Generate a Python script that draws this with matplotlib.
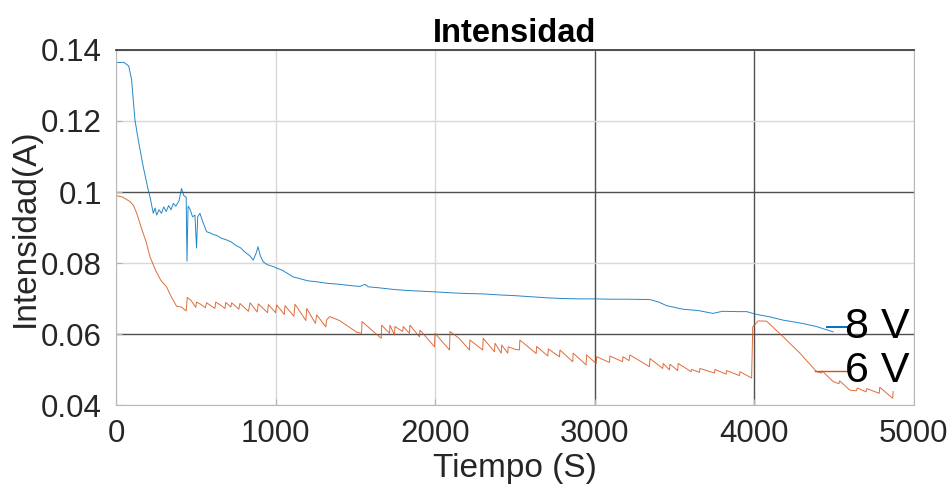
import matplotlib
matplotlib.use("Agg")
import matplotlib.pyplot as plt

# 8 V series (blue)
blue_t = [0, 50, 80, 98, 119, 140, 171, 200, 213, 234, 245, 255, 270, 285, 300, 315,
          330, 345, 360, 375, 395, 411, 425, 440, 445, 452, 463, 480, 495, 505, 512,
          526, 545, 568, 590, 610, 630, 660, 693, 720, 750, 780, 810, 840, 860, 880,
          890, 905, 923, 950, 986, 1010, 1040, 1070, 1110, 1160, 1200, 1260, 1320,
          1400, 1480, 1529, 1560, 1580, 1650, 1750, 1850, 1988, 2100, 2200, 2300,
          2406, 2500, 2600, 2700, 2800, 2900, 2989, 3100, 3200, 3346, 3400, 3450,
          3550, 3650, 3741, 3800, 3900, 3953, 4006, 4100, 4181, 4300, 4390, 4494]
blue_i = [0.1365, 0.1365, 0.1355, 0.1316, 0.1203, 0.1146, 0.1071, 0.1010, 0.0987,
          0.0940, 0.0955, 0.0935, 0.0950, 0.0940, 0.0958, 0.0945, 0.0962, 0.0950,
          0.0968, 0.0960, 0.0975, 0.1010, 0.0990, 0.0985, 0.0805, 0.0960, 0.0953,
          0.0930, 0.0935, 0.0842, 0.0930, 0.0940, 0.0915, 0.0888, 0.0885, 0.0880,
          0.0878, 0.0870, 0.0865, 0.0860, 0.0850, 0.0843, 0.0830, 0.0820, 0.0808,
          0.0830, 0.0846, 0.0820, 0.0803, 0.0795, 0.0790, 0.0785, 0.0780, 0.0772,
          0.0761, 0.0755, 0.0750, 0.0747, 0.0743, 0.0740, 0.0736, 0.0734, 0.0740,
          0.0733, 0.0730, 0.0725, 0.0722, 0.0719, 0.0716, 0.0714, 0.0713, 0.0710,
          0.0708, 0.0705, 0.0702, 0.0700, 0.0699, 0.0699, 0.0698, 0.0698, 0.0697,
          0.0690, 0.0680, 0.0670, 0.0666, 0.0658, 0.0664, 0.0663, 0.0663, 0.0656,
          0.0648, 0.0639, 0.0630, 0.0621, 0.0606]

# 6 V series (orange)
orange_t = [0, 40, 88, 110, 130, 160, 190, 213, 250, 280, 317, 350, 380, 410, 440, 447,
            470, 500, 505, 530, 560, 568, 600, 620, 625, 660, 683, 688, 720, 725, 770,
            777, 830, 840, 885, 892, 950, 955, 1000, 1007, 1055, 1059, 1115, 1122,
            1190, 1195, 1250, 1258, 1315, 1320, 1340, 1400, 1460, 1508, 1539, 1542,
            1600, 1662, 1665, 1714, 1717, 1745, 1748, 1797, 1800, 1839, 1842, 1902,
            1905, 1996, 1999, 2090, 2093, 2150, 2215, 2218, 2298, 2301, 2372, 2375,
            2414, 2417, 2455, 2458, 2500, 2528, 2531, 2633, 2636, 2706, 2709, 2779,
            2782, 2862, 2865, 2946, 2949, 3009, 3012, 3092, 3095, 3174, 3177, 3215,
            3220, 3343, 3346, 3426, 3429, 3468, 3471, 3520, 3523, 3604, 3607, 3656,
            3659, 3750, 3753, 3823, 3826, 3907, 3910, 3983, 3990, 4025, 4077, 4181,
            4286, 4390, 4420, 4425, 4494, 4530, 4535, 4598, 4640, 4645, 4700, 4705,
            4783, 4786, 4867, 4870]
orange_i = [0.0990, 0.0986, 0.0973, 0.0962, 0.0940, 0.0898, 0.0858, 0.0818, 0.0778,
            0.0752, 0.0733, 0.0702, 0.0678, 0.0676, 0.0665, 0.0703, 0.0695, 0.0675,
            0.0690, 0.0684, 0.0674, 0.0688, 0.0678, 0.0672, 0.0690, 0.0680, 0.0672,
            0.0689, 0.0676, 0.0688, 0.0670, 0.0686, 0.0664, 0.0688, 0.0662, 0.0685,
            0.0660, 0.0683, 0.0660, 0.0682, 0.0655, 0.0680, 0.0650, 0.0684, 0.0638,
            0.0672, 0.0630, 0.0654, 0.0620, 0.0640, 0.0649, 0.0638, 0.0620, 0.0605,
            0.0602, 0.0635, 0.0612, 0.0588, 0.0625, 0.0602, 0.0625, 0.0597, 0.0621,
            0.0607, 0.0621, 0.0602, 0.0625, 0.0592, 0.0611, 0.0564, 0.0602, 0.0555,
            0.0607, 0.0588, 0.0555, 0.0583, 0.0555, 0.0588, 0.0550, 0.0574, 0.0546,
            0.0569, 0.0546, 0.0564, 0.0557, 0.0555, 0.0583, 0.0545, 0.0565, 0.0538,
            0.0558, 0.0536, 0.0555, 0.0522, 0.0546, 0.0513, 0.0541, 0.0517, 0.0536,
            0.0520, 0.0538, 0.0522, 0.0536, 0.0525, 0.0541, 0.0508, 0.0531, 0.0503,
            0.0517, 0.0499, 0.0515, 0.0497, 0.0517, 0.0494, 0.0500, 0.0492, 0.0503,
            0.0490, 0.0500, 0.0487, 0.0497, 0.0483, 0.0494, 0.0476, 0.0620, 0.0637,
            0.0636, 0.0592, 0.0546, 0.0494, 0.0490, 0.0496, 0.0466, 0.0460, 0.0468,
            0.0442, 0.0440, 0.0448, 0.0437, 0.0446, 0.0433, 0.0450, 0.0419, 0.0438]

# inline labels: text, y level, x start of the marker line
labels = [("8 V", 0.0621, 4457), ("6 V", 0.0497, 4380)]
label_line_end = 4580

blue = "#0072BD"
orange = "#D95319"

plt.rcParams["font.family"] = ["Liberation Sans", "DejaVu Sans"]

fig = plt.figure(figsize=(9.52, 4.95), dpi=100)
ax = fig.add_axes([0.1218, 0.1818, 0.8382, 0.7172])

ax.plot(blue_t, blue_i, color=blue, lw=0.7, alpha=0.85)
ax.plot(orange_t, orange_i, color=orange, lw=0.7, alpha=0.85)

for (txt, y, x0), col in zip(labels, [blue, orange]):
    ax.plot([x0, label_line_end], [y, y], color=col, lw=1.4 if col == blue else 1.0)
    ax.text(label_line_end - 10, y, txt, fontsize=31, va="center", ha="left",
            color="black", clip_on=False)

ax.set_xlim(0, 5000)
ax.set_ylim(0.04, 0.14)
ax.set_xticks([0, 1000, 2000, 3000, 4000, 5000])
ax.set_yticks([0.04, 0.06, 0.08, 0.1, 0.12, 0.14])
ax.set_yticklabels(["0.04", "0.06", "0.08", "0.1", "0.12", "0.14"])

ax.grid(True, color="#d8d8d8", lw=1.0)
ax.set_axisbelow(True)
# some grid lines come out darker in the original render
for i, gl in enumerate(ax.xaxis.get_gridlines()):
    if i in (3, 4):
        gl.set_color("#505050")
for i, gl in enumerate(ax.yaxis.get_gridlines()):
    if i in (1, 3):
        gl.set_color("#505050")

for side in ("left", "bottom", "right"):
    ax.spines[side].set_color("#b8b8b8")
ax.spines["top"].set_color("#404040")
ax.spines["top"].set_linewidth(1.3)

ax.tick_params(direction="in", length=4, colors="#b0b0b0", labelcolor="#262626",
               labelsize=22.5)
ax.tick_params(axis="y", pad=10)
ax.tick_params(axis="x", pad=10)
ax.set_xlabel("Tiempo (S)", fontsize=24, color="#262626", labelpad=3)
ax.set_ylabel("Intensidad(A)", fontsize=24, color="#262626", labelpad=0)
ax.set_title("Intensidad", fontsize=23.5, fontweight="bold", pad=6)

fig.savefig("out.png", dpi=100)
